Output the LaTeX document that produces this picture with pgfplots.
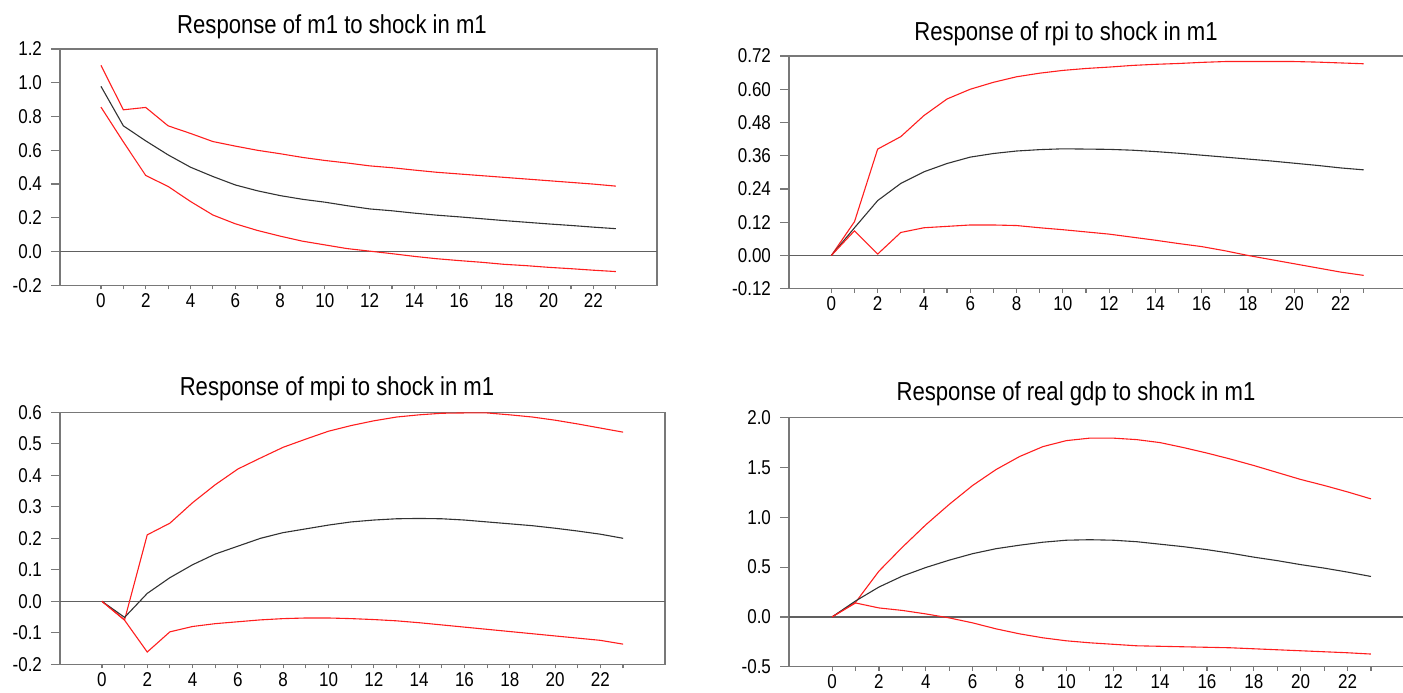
\documentclass[border=0pt]{standalone}
\usepackage{pgfplots}
\pgfplotsset{compat=1.18}
\usepackage{fontspec}
\setmainfont{Liberation Sans}[FakeStretch=0.85]
\definecolor{irfred}{RGB}{255,30,30}
\definecolor{irfblack}{RGB}{50,50,50}
\definecolor{framegray}{RGB}{120,120,120}

\pgfplotsset{
  irf/.style={
    scale only axis,
    anchor=north west,
    axis line style={framegray, line width=0.7pt},
    tick style={framegray, line width=0.6pt},
    tick align=outside,
    major tick length=4.5pt,
    minor tick length=2pt,
    xtick={0,2,...,22},
    minor xtick={0,1,...,23},
    every major x tick/.append style={draw=none},
    ytick pos=left,
    xtick pos=bottom,
    font=\fontsize{10}{12}\selectfont,
    /pgf/number format/assume math mode=true,
    yticklabel style={xshift=-1pt, /pgf/number format/fixed, /pgf/number format/fixed zerofill, /pgf/number format/precision=1},
    xticklabel style={yshift=4pt},
    extra y ticks={0},
    extra y tick labels={},
    extra y tick style={grid=major, major grid style={framegray!80!black, line width=0.6pt}, tick style={draw=none}},
    clip=false,
  },
  hi/.style={irfred, line width=0.55pt},
  mid/.style={irfblack, line width=0.55pt},
  lo/.style={irfred, line width=0.55pt},
}

\begin{document}
\begin{tikzpicture}
\path[use as bounding box] (0,0) rectangle (701.5pt,-346pt);

% Panel 1: m1
\begin{axis}[irf, at={(30pt,-24.5pt)}, width=298.5pt, height=118.2pt,
  xmin=-1.83, xmax=24.84, ymin=-0.2, ymax=1.2, ytick={-0.2,0,0.2,...,1.2}]
\addplot[hi] coordinates {(0,1.103)(1,0.84)(2,0.854)(3,0.745)(4,0.70)(5,0.652)(6,0.625)(7,0.60)(8,0.58)(9,0.558)(10,0.54)(11,0.525)(12,0.508)(13,0.497)(14,0.483)(15,0.47)(16,0.46)(17,0.45)(18,0.44)(19,0.43)(20,0.42)(21,0.41)(22,0.40)(23,0.388)};
\addplot[mid] coordinates {(0,0.979)(1,0.745)(2,0.656)(3,0.573)(4,0.50)(5,0.445)(6,0.395)(7,0.36)(8,0.332)(9,0.31)(10,0.293)(11,0.272)(12,0.253)(13,0.242)(14,0.228)(15,0.216)(16,0.206)(17,0.195)(18,0.184)(19,0.174)(20,0.164)(21,0.155)(22,0.145)(23,0.136)};
\addplot[lo] coordinates {(0,0.856)(1,0.65)(2,0.451)(3,0.386)(4,0.297)(5,0.217)(6,0.165)(7,0.125)(8,0.092)(9,0.062)(10,0.04)(11,0.018)(12,0.003)(13,-0.012)(14,-0.028)(15,-0.042)(16,-0.053)(17,-0.063)(18,-0.075)(19,-0.083)(20,-0.093)(21,-0.101)(22,-0.11)(23,-0.118)};
\end{axis}

% Panel 2: rpi
\begin{axis}[irf, at={(394.5pt,-28pt)}, width=310.5pt, height=116.35pt,
  xmin=-1.83, xmax=25, ymin=-0.12, ymax=0.72, ytick={-0.12,0,0.12,0.24,0.36,0.48,0.60,0.72},
  yticklabel style={/pgf/number format/precision=2}]
\addplot[hi] coordinates {(0,0)(1,0.122)(2,0.384)(3,0.429)(4,0.505)(5,0.565)(6,0.60)(7,0.625)(8,0.645)(9,0.658)(10,0.668)(11,0.675)(12,0.68)(13,0.686)(14,0.69)(15,0.693)(16,0.697)(17,0.70)(18,0.70)(19,0.70)(20,0.70)(21,0.698)(22,0.695)(23,0.692)};
\addplot[mid] coordinates {(0,0)(1,0.10)(2,0.198)(3,0.26)(4,0.302)(5,0.332)(6,0.355)(7,0.368)(8,0.377)(9,0.382)(10,0.385)(11,0.384)(12,0.383)(13,0.38)(14,0.375)(15,0.369)(16,0.362)(17,0.355)(18,0.348)(19,0.341)(20,0.333)(21,0.325)(22,0.316)(23,0.309)};
\addplot[lo] coordinates {(0,0)(1,0.089)(2,0.005)(3,0.083)(4,0.10)(5,0.105)(6,0.11)(7,0.11)(8,0.108)(9,0.10)(10,0.093)(11,0.085)(12,0.077)(13,0.066)(14,0.055)(15,0.043)(16,0.032)(17,0.017)(18,0.0)(19,-0.015)(20,-0.03)(21,-0.045)(22,-0.06)(23,-0.072)};
\end{axis}

% Panel 3: mpi
\begin{axis}[irf, at={(30pt,-206.15pt)}, width=302.5pt, height=126pt,
  xmin=-1.85, xmax=24.85, ymin=-0.2, ymax=0.6, ytick={-0.2,-0.1,...,0.6}]
\addplot[hi] coordinates {(0,0)(1,-0.059)(2,0.211)(3,0.248)(4,0.313)(5,0.37)(6,0.42)(7,0.455)(8,0.489)(9,0.515)(10,0.54)(11,0.558)(12,0.573)(13,0.585)(14,0.592)(15,0.597)(16,0.598)(17,0.598)(18,0.592)(19,0.585)(20,0.575)(21,0.563)(22,0.55)(23,0.537)};
\addplot[mid] coordinates {(0,0)(1,-0.051)(2,0.025)(3,0.075)(4,0.116)(5,0.15)(6,0.175)(7,0.20)(8,0.218)(9,0.23)(10,0.242)(11,0.252)(12,0.258)(13,0.262)(14,0.263)(15,0.262)(16,0.258)(17,0.252)(18,0.246)(19,0.24)(20,0.232)(21,0.223)(22,0.213)(23,0.20)};
\addplot[lo] coordinates {(0,0)(1,-0.06)(2,-0.161)(3,-0.097)(4,-0.08)(5,-0.071)(6,-0.065)(7,-0.059)(8,-0.055)(9,-0.053)(10,-0.053)(11,-0.055)(12,-0.058)(13,-0.062)(14,-0.068)(15,-0.075)(16,-0.082)(17,-0.089)(18,-0.096)(19,-0.103)(20,-0.11)(21,-0.117)(22,-0.124)(23,-0.136)};
\end{axis}

% Panel 4: real gdp
\begin{axis}[irf, at={(394.5pt,-208.85pt)}, width=314.4pt, height=124.5pt,
  xmin=-1.84, xmax=25, ymin=-0.5, ymax=2.0, ytick={-0.5,0,0.5,...,2.0}]
\addplot[hi] coordinates {(0,0)(1,0.146)(2,0.46)(3,0.70)(4,0.925)(5,1.13)(6,1.32)(7,1.48)(8,1.61)(9,1.71)(10,1.77)(11,1.795)(12,1.795)(13,1.78)(14,1.75)(15,1.70)(16,1.645)(17,1.585)(18,1.52)(19,1.45)(20,1.38)(21,1.32)(22,1.255)(23,1.185)};
\addplot[mid] coordinates {(0,0)(1,0.16)(2,0.30)(3,0.41)(4,0.496)(5,0.57)(6,0.635)(7,0.685)(8,0.72)(9,0.75)(10,0.77)(11,0.775)(12,0.77)(13,0.755)(14,0.73)(15,0.705)(16,0.675)(17,0.64)(18,0.60)(19,0.565)(20,0.525)(21,0.49)(22,0.45)(23,0.406)};
\addplot[lo] coordinates {(0,0)(1,0.14)(2,0.09)(3,0.065)(4,0.03)(5,-0.01)(6,-0.06)(7,-0.12)(8,-0.17)(9,-0.21)(10,-0.24)(11,-0.26)(12,-0.275)(13,-0.29)(14,-0.295)(15,-0.30)(16,-0.305)(17,-0.31)(18,-0.32)(19,-0.33)(20,-0.34)(21,-0.35)(22,-0.36)(23,-0.373)};
\end{axis}

% Titles
\begin{scope}[every node/.style={anchor=base, inner sep=0pt, font=\fontsize{13}{15}\selectfont}]
\node at (166pt,-16.5pt) {Response of m1 to shock in m1};
\node at (533pt,-20pt) {Response of rpi to shock in m1};
\node at (168.5pt,-197.5pt) {Response of mpi to shock in m1};
\node at (538pt,-200pt) {Response of real gdp to shock in m1};
\end{scope}
\end{tikzpicture}
\end{document}
